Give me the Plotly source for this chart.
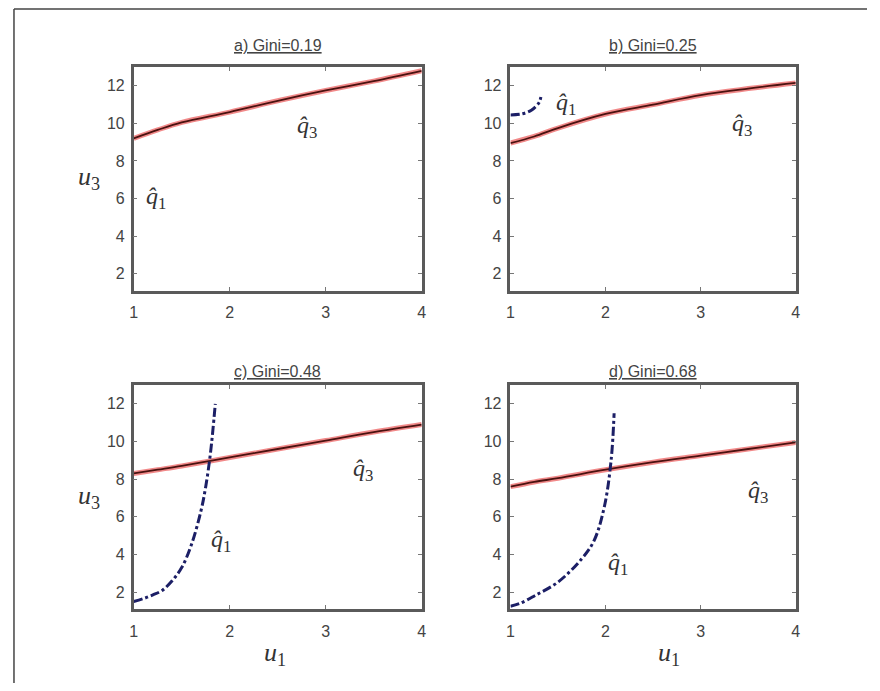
import plotly.graph_objects as go

# ---- data ----
x_q3 = [1.0, 1.25, 1.5, 2.0, 2.5, 3.0, 3.5, 4.0]
a_q3 = [9.2, 9.65, 10.05, 10.6, 11.2, 11.75, 12.25, 12.8]
b_q3 = [8.95, 9.3, 9.75, 10.5, 11.0, 11.5, 11.85, 12.15]
c_q3 = [8.3, 8.5, 8.7, 9.15, 9.6, 10.05, 10.5, 10.9]
d_q3 = [7.6, 7.85, 8.05, 8.5, 8.9, 9.25, 9.6, 9.95]

b_q1_x = [1.0, 1.12, 1.22, 1.3, 1.32]
b_q1_y = [10.45, 10.5, 10.7, 11.1, 11.4]
c_q1_x = [1.0, 1.1, 1.2, 1.3, 1.4, 1.5, 1.6, 1.7, 1.75, 1.8, 1.85]
c_q1_y = [1.5, 1.65, 1.85, 2.1, 2.6, 3.3, 4.5, 6.3, 7.6, 9.4, 12.0]
d_q1_x = [1.0, 1.1, 1.26, 1.5, 1.75, 1.88, 1.99, 2.06, 2.09]
d_q1_y = [1.25, 1.4, 1.82, 2.53, 3.77, 4.74, 6.6, 9.08, 11.5]

titles = ["a) Gini=0.19", "b) Gini=0.25", "c) Gini=0.48", "d) Gini=0.68"]
x_ticks = [1, 2, 3, 4]
y_ticks = [2, 4, 6, 8, 10, 12]

# label positions (data coords) for q1 / q3 per panel
q1_pos = [(1.23, 6.0), (1.58, 11.05), (1.91, 4.7), (2.13, 3.5)]
q3_pos = [(2.81, 9.8), (3.43, 9.9), (3.39, 8.5), (3.6, 7.3)]

# the page puts the plot 8px in from the corner, so size it to fit the window
W, H, OFF = 864, 675, 8


def px_x(p):
    return (p - OFF) / W


def px_y(p):
    return 1 - (p - OFF) / H


xdoms = [[px_x(131), px_x(422)], [px_x(511.7), px_x(800)]]
ydoms = [[px_y(290.5), px_y(67)], [px_y(609), px_y(385)]]

fig = go.Figure()
axis_ids = ["", "2", "3", "4"]
q3_sets = [a_q3, b_q3, c_q3, d_q3]
q1_sets = [None, (b_q1_x, b_q1_y), (c_q1_x, c_q1_y), (d_q1_x, d_q1_y)]

serif = "Liberation Serif, Times New Roman, serif"
sans = "Liberation Sans, Arial, sans-serif"
annotations = []

for i in range(4):
    ax = axis_ids[i]
    xa, ya = "x" + ax, "y" + ax
    col, row = i % 2, i // 2
    # q3: red line with a dark core
    fig.add_trace(go.Scatter(x=x_q3, y=q3_sets[i], mode="lines", xaxis=xa, yaxis=ya,
                             line=dict(color="rgba(230,40,40,0.55)", width=5, shape="spline"),
                             showlegend=False, hoverinfo="skip"))
    fig.add_trace(go.Scatter(x=x_q3, y=q3_sets[i], mode="lines", xaxis=xa, yaxis=ya,
                             line=dict(color="#4a1210", width=1.8, shape="spline"),
                             showlegend=False))
    if q1_sets[i] is not None:
        qx, qy = q1_sets[i]
        fig.add_trace(go.Scatter(x=qx, y=qy, mode="lines", xaxis=xa, yaxis=ya,
                                 line=dict(color="#1c1f66", width=3, dash="dashdot",
                                           shape="spline"),
                                 showlegend=False))

    axis_style = dict(showline=True, linecolor="#5a5a5a", linewidth=2.5, mirror="all",
                      ticks="inside", ticklen=4, tickcolor="#777", showgrid=False,
                      zeroline=False, tickfont=dict(family=sans, size=16, color="#444"))
    fig.layout["xaxis" + ax] = dict(domain=xdoms[col], range=[1, 4], tickvals=x_ticks,
                                    anchor=ya, ticklabelstandoff=6, **axis_style)
    fig.layout["yaxis" + ax] = dict(domain=ydoms[row], range=[1.1, 13], tickvals=y_ticks,
                                    anchor=xa, ticklabelstandoff=3, **axis_style)

    # panel title
    annotations.append(dict(text="<u>" + titles[i] + "</u>", xref="paper", yref="paper",
                            x=sum(xdoms[col]) / 2, y=px_y([45, 372][row]),
                            xanchor="center", yanchor="middle", showarrow=False,
                            font=dict(family=sans, size=16, color="#444")))
    # curve labels
    for (lx, ly), sub in ((q1_pos[i], "1"), (q3_pos[i], "3")):
        annotations.append(dict(text="<i>q\u0302</i><sub>" + sub + "</sub>", xref=xa, yref=ya,
                                x=lx, y=ly, showarrow=False,
                                xanchor="center", yanchor="middle",
                                font=dict(family=serif, size=24, color="#333")))

# axis labels
for row in range(2):
    annotations.append(dict(text="<i>u</i><sub>3</sub>", xref="paper", yref="paper",
                            x=px_x(86), y=px_y([178, 497][row]), showarrow=False,
                            xanchor="center", yanchor="middle",
                            font=dict(family=serif, size=26, color="#333")))
for col in range(2):
    annotations.append(dict(text="<i>u</i><sub>1</sub>", xref="paper", yref="paper",
                            x=px_x([274, 672][col]), y=px_y(654), showarrow=False,
                            xanchor="center", yanchor="middle",
                            font=dict(family=serif, size=26, color="#333")))

fig.update_layout(
    width=W, height=H,
    margin=dict(l=0, r=0, t=0, b=0),
    paper_bgcolor="white", plot_bgcolor="white",
    annotations=annotations,
    shapes=[
        dict(type="line", xref="paper", yref="paper", x0=px_x(10), x1=1.0,
             y0=1 - 1 / H, y1=1 - 1 / H, line=dict(color="#444", width=1.5)),
        dict(type="line", xref="paper", yref="paper", x0=px_x(10), x1=px_x(10),
             y0=0, y1=1 - 1 / H, line=dict(color="#444", width=1.5)),
    ],
)

fig.write_html("out.html")
